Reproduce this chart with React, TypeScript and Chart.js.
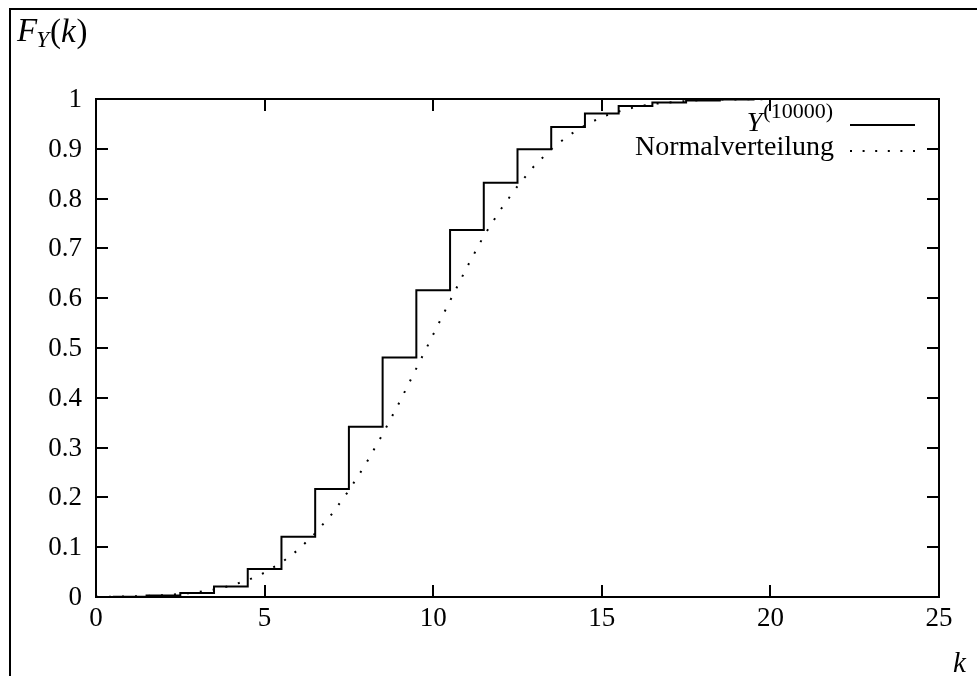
import React, { useEffect, useRef } from "react";
import { Chart, registerables } from "chart.js";

Chart.register(...registerables);

// Empirical distribution (step function), jumps at k + 0.5
const stepK = [0.5, 1.5, 2.5, 3.5, 4.5, 5.5, 6.5, 7.5, 8.5, 9.5, 10.5, 11.5, 12.5, 13.5, 14.5, 15.5, 16.5, 17.5, 18.5, 19.5];
const stepF = [0.0003, 0.003, 0.008, 0.021, 0.056, 0.121, 0.217, 0.342, 0.481, 0.616, 0.737, 0.832, 0.899, 0.944, 0.971, 0.986, 0.993, 0.997, 0.999, 1.0];

// Normal distribution curve (dotted)
const normK = [0, 0.5, 1, 1.5, 2, 2.5, 3, 3.5, 4, 4.5, 5, 5.5, 6, 6.5, 7, 7.5, 8, 8.5, 9, 9.5, 10, 10.5, 11, 11.5, 12, 12.5, 13, 13.5, 14, 14.5, 15, 15.5, 16, 16.5, 17, 17.5, 18, 18.5, 19, 19.5, 20, 21, 22, 23, 24, 25];
const normF = [0.0004, 0.0007, 0.0012, 0.0021, 0.0036, 0.0059, 0.0095, 0.0149, 0.0228, 0.0338, 0.049, 0.069, 0.095, 0.128, 0.167, 0.214, 0.267, 0.327, 0.391, 0.459, 0.527, 0.595, 0.662, 0.725, 0.778, 0.825, 0.866, 0.899, 0.926, 0.947, 0.964, 0.975, 0.984, 0.99, 0.993, 0.996, 0.998, 0.9987, 0.9992, 0.9996, 0.9998, 1.0, 1.0, 1.0, 1.0, 1.0];

const xTicks = [0, 5, 10, 15, 20, 25];
const yTicks = [0, 0.1, 0.2, 0.3, 0.4, 0.5, 0.6, 0.7, 0.8, 0.9, 1];

const seriesLabels = ["Y(10000)", "Normalverteilung"];

const FONT = "'Liberation Serif', 'Times New Roman', serif";

const gnuplotPlugin = {
  id: "gnuplotFrame",
  afterDraw(chart: any) {
    const ctx = chart.ctx as CanvasRenderingContext2D;
    const { left, right, top, bottom } = chart.chartArea;
    const xs = chart.scales.x;
    const ys = chart.scales.y;
    ctx.save();
    ctx.strokeStyle = "#000";
    ctx.fillStyle = "#000";
    ctx.lineWidth = 2;
    ctx.lineCap = "butt";

    // outer frame
    ctx.beginPath();
    ctx.moveTo(10, chart.height);
    ctx.lineTo(10, 9);
    ctx.lineTo(chart.width, 9);
    ctx.stroke();

    // plot border
    ctx.strokeRect(left, top, right - left, bottom - top);

    // inward ticks on all sides
    const tl = 12;
    ctx.beginPath();
    xTicks.forEach((v) => {
      const px = Math.round(xs.getPixelForValue(v));
      ctx.moveTo(px, bottom);
      ctx.lineTo(px, bottom - tl);
      ctx.moveTo(px, top);
      ctx.lineTo(px, top + tl);
    });
    yTicks.forEach((v) => {
      const py = Math.round(ys.getPixelForValue(v));
      ctx.moveTo(left, py);
      ctx.lineTo(left + tl, py);
      ctx.moveTo(right, py);
      ctx.lineTo(right - tl, py);
    });
    ctx.stroke();

    // legend
    const textRight = 833;
    const sampleL = 850;
    const sampleR = 915;
    // entry 1: Y^(10000)
    ctx.textBaseline = "alphabetic";
    ctx.textAlign = "left";
    ctx.font = `22px ${FONT}`;
    const sup = "(10000)";
    const supW = ctx.measureText(sup).width;
    ctx.font = `italic 28px ${FONT}`;
    const yW = ctx.measureText("Y").width;
    const x0 = textRight - supW - yW - 1;
    ctx.fillText("Y", x0, 131);
    ctx.font = `22px ${FONT}`;
    ctx.fillText(sup, x0 + yW + 1, 118);
    ctx.beginPath();
    ctx.moveTo(sampleL, 125);
    ctx.lineTo(sampleR, 125);
    ctx.stroke();
    // entry 2: Normalverteilung
    ctx.font = `28px ${FONT}`;
    ctx.textAlign = "right";
    ctx.fillText(seriesLabels[1], textRight + 1, 155);
    ctx.save();
    ctx.setLineDash([2, 10.6]);
    ctx.beginPath();
    ctx.moveTo(sampleL, 151);
    ctx.lineTo(sampleR + 2, 151);
    ctx.stroke();
    ctx.restore();

    // axis titles
    ctx.textAlign = "left";
    ctx.font = `italic 29px ${FONT}`;
    ctx.fillText("k", 953, 672);

    // F_Y(k)
    let cx = 17;
    const base = 42;
    ctx.font = `italic 33px ${FONT}`;
    ctx.fillText("F", cx, base - 1);
    cx += ctx.measureText("F").width - 1;
    ctx.font = `italic 23px ${FONT}`;
    ctx.fillText("Y", cx, base + 5);
    cx += ctx.measureText("Y").width + 1;
    ctx.font = `33px ${FONT}`;
    ctx.fillText("(", cx, base);
    cx += ctx.measureText("(").width;
    ctx.font = `italic 33px ${FONT}`;
    ctx.fillText("k", cx, base);
    cx += ctx.measureText("k").width + 1;
    ctx.font = `33px ${FONT}`;
    ctx.fillText(")", cx, base);

    ctx.restore();
  },
};

export default function App() {
  const ref = useRef<HTMLCanvasElement | null>(null);

  useEffect(() => {
    if (!ref.current) return;
    const chart = new Chart(ref.current, {
      type: "line",
      data: {
        datasets: [
          {
            label: seriesLabels[0],
            data: stepK.map((k, i) => ({ x: k, y: stepF[i] })),
            borderColor: "#000",
            borderWidth: 2,
            pointRadius: 0,
            stepped: "before",
            fill: false,
          },
          {
            label: seriesLabels[1],
            data: normK.map((k, i) => ({ x: k, y: normF[i] })),
            borderColor: "#000",
            borderWidth: 2,
            borderDash: [2, 11],
            borderCapStyle: "butt",
            pointRadius: 0,
            tension: 0,
            fill: false,
          },
        ],
      },
      options: {
        animation: false,
        responsive: false,
        maintainAspectRatio: false,
        layout: { padding: { top: 99, right: 38, left: 0, bottom: 0 } },
        plugins: {
          legend: { display: false },
          tooltip: { enabled: false },
          title: { display: false },
        },
        scales: {
          x: {
            type: "linear",
            min: 0,
            max: 25,
            grid: { display: false, drawTicks: false },
            border: { display: false },
            ticks: {
              color: "#000",
              font: { family: FONT, size: 27 },
              padding: 6,
              maxRotation: 0,
              autoSkip: false,
            },
            afterBuildTicks: (s: any) => {
              s.ticks = xTicks.map((v) => ({ value: v }));
            },
            afterFit: (s: any) => {
              s.height = 79;
            },
          },
          y: {
            type: "linear",
            min: 0,
            max: 1,
            grid: { display: false, drawTicks: false },
            border: { display: false },
            ticks: {
              color: "#000",
              font: { family: FONT, size: 27 },
              padding: 14,
              labelOffset: 1,
              autoSkip: false,
              callback: (v: any) => String(Number(Number(v).toFixed(1))),
            },
            afterBuildTicks: (s: any) => {
              s.ticks = yTicks.map((v) => ({ value: v }));
            },
            afterFit: (s: any) => {
              s.width = 96;
            },
          },
        },
      },
      plugins: [gnuplotPlugin],
    });
    return () => chart.destroy();
  }, []);

  return (
    <div style={{ position: "absolute", left: 0, top: 0, width: 977, height: 676, background: "#fff" }}>
      <canvas ref={ref} width={977} height={676} style={{ display: "block", width: 977, height: 676 }} />
    </div>
  );
}
